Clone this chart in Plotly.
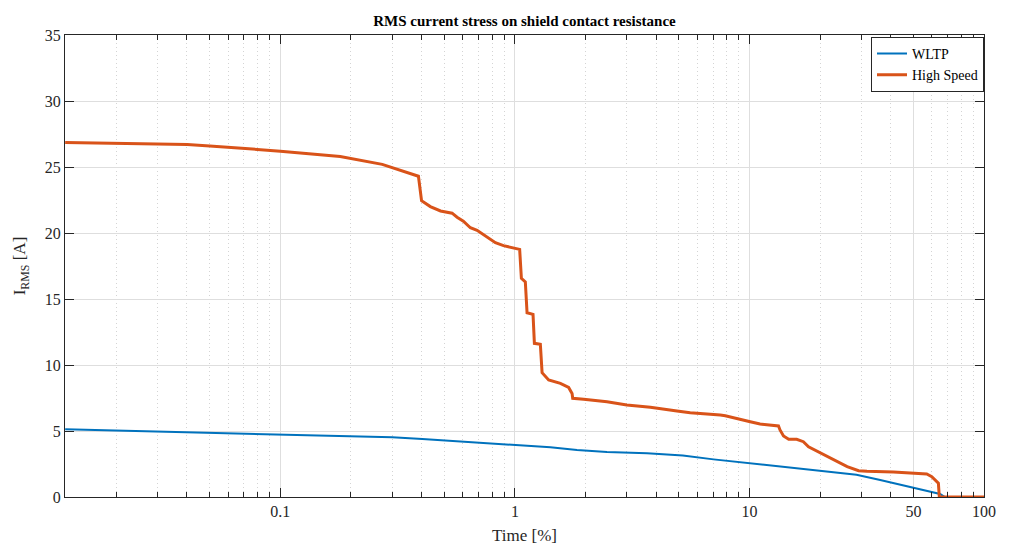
import plotly.graph_objects as go

# ---- data ----
hs_time = [0.0121, 0.0201, 0.0302, 0.0401, 0.05, 0.0602, 0.0704, 0.09, 0.1, 0.18, 0.226, 0.272, 0.388,
           0.40, 0.436, 0.482, 0.54, 0.567, 0.603, 0.646, 0.69, 0.761, 0.826, 0.894, 0.985, 1.048,
           1.066, 1.108, 1.127, 1.195, 1.211, 1.284, 1.306, 1.393, 1.563, 1.695, 1.753, 1.764,
           1.964, 2.47, 3.0, 3.78, 4.91, 5.59, 7.51, 7.89, 10.08, 11.1, 13.3, 13.5, 13.97, 14.7,
           15.9, 16.98, 17.86, 19.98, 22.9, 26.1, 29.2, 31.7, 41.1, 57.0, 59.9, 63.9, 64.5, 100]
hs_irms = [26.85, 26.77, 26.74, 26.7, 26.6, 26.5, 26.44, 26.3, 26.2, 25.8, 25.5, 25.2, 24.3,
           22.45, 22.0, 21.67, 21.5, 21.2, 20.9, 20.4, 20.2, 19.67, 19.27, 19.04, 18.9, 18.76,
           16.57, 16.3, 13.96, 13.84, 11.64, 11.57, 9.42, 8.86, 8.61, 8.3, 7.85, 7.48,
           7.4, 7.22, 6.97, 6.8, 6.52, 6.39, 6.21, 6.16, 5.7, 5.53, 5.38, 5.08, 4.62, 4.37,
           4.37, 4.19, 3.81, 3.38, 2.8, 2.3, 1.99, 1.95, 1.89, 1.74, 1.54, 1.04, 0.0, 0.0]

wltp_time = [0.0121, 0.0201, 0.0302, 0.05, 0.0704, 0.1, 0.18, 0.3, 0.403, 0.505, 0.69, 1.0, 1.417,
             1.84, 2.47, 3.66, 5.2, 7.03, 9.98, 12.7, 19.98, 28.6, 36.1, 50.1, 65.0, 68.1, 100]
wltp_irms = [5.13, 5.03, 4.95, 4.9, 4.82, 4.77, 4.65, 4.52, 4.39, 4.27, 4.14, 3.94, 3.76,
             3.56, 3.41, 3.31, 3.15, 2.85, 2.55, 2.35, 1.99, 1.69, 1.29, 0.73, 0.23, 0.0, 0.0]

x_major = [0.1, 1, 10, 50, 100]
x_major_text = ["0.1", "1", "10", "50", "100"]
x_minor = [m * d for d in (0.01, 0.1, 1, 10) for m in range(2, 10) if not (d == 10 and m == 5)]
y_ticks = [0, 5, 10, 15, 20, 25, 30, 35]

FONT = "Liberation Serif, Times New Roman, DejaVu Serif, serif"
AX = "#262626"

fig = go.Figure()
fig.add_trace(go.Scatter(x=wltp_time, y=wltp_irms, mode="lines", name="WLTP",
                         line=dict(color="#0072BD", width=2)))
fig.add_trace(go.Scatter(x=hs_time, y=hs_irms, mode="lines", name="High Speed",
                         line=dict(color="#D95319", width=3)))

fig.update_layout(
    width=1009, height=545,
    margin=dict(l=64.5, r=25, t=35, b=48, autoexpand=False),
    plot_bgcolor="white", paper_bgcolor="white",
    font=dict(family=FONT, size=14, color=AX),
    title=dict(text="<b>RMS current stress on shield contact resistance</b>",
               x=0.5, xref="paper", xanchor="center", y=1, yref="paper", yanchor="bottom",
               pad=dict(b=9), font=dict(family=FONT, size=15, color="black")),
    showlegend=True,
    legend=dict(x=1.0, y=0.996, xanchor="right", yanchor="top",
                bgcolor="white", bordercolor="#262626", borderwidth=1,
                font=dict(family=FONT, size=14, color="black"),
                tracegroupgap=0, itemwidth=30),
)

fig.update_xaxes(
    type="log", range=[-1.918, 2], automargin=False,
    tickmode="array", tickvals=x_major, ticktext=x_major_text,
    ticks="inside", ticklen=9, tickwidth=1, tickcolor=AX,
    showline=True, linecolor=AX, linewidth=1, mirror="ticks",
    showgrid=True, gridcolor="#dedede", gridwidth=1,
    zeroline=False,
    minor=dict(tickmode="array", tickvals=x_minor, ticks="inside", ticklen=5, tickcolor=AX,
               showgrid=True, gridcolor="#d4d4d4", griddash="1px,3px", gridwidth=1),
    title=dict(text="Time [%]", font=dict(family=FONT, size=17, color=AX), standoff=9),
    tickfont=dict(family=FONT, size=16, color=AX),
)
fig.update_yaxes(
    range=[0, 35], tickmode="array", tickvals=y_ticks, automargin=False,
    ticks="inside", ticklen=9, tickwidth=1, tickcolor=AX,
    showline=True, linecolor=AX, linewidth=1, mirror="ticks",
    showgrid=True, gridcolor="#dedede", gridwidth=1,
    zeroline=False,
    title=dict(text="I<sub>RMS</sub> [A]", font=dict(family=FONT, size=17, color=AX), standoff=14),
    tickfont=dict(family=FONT, size=16, color=AX),
)

fig.write_html("out.html")
